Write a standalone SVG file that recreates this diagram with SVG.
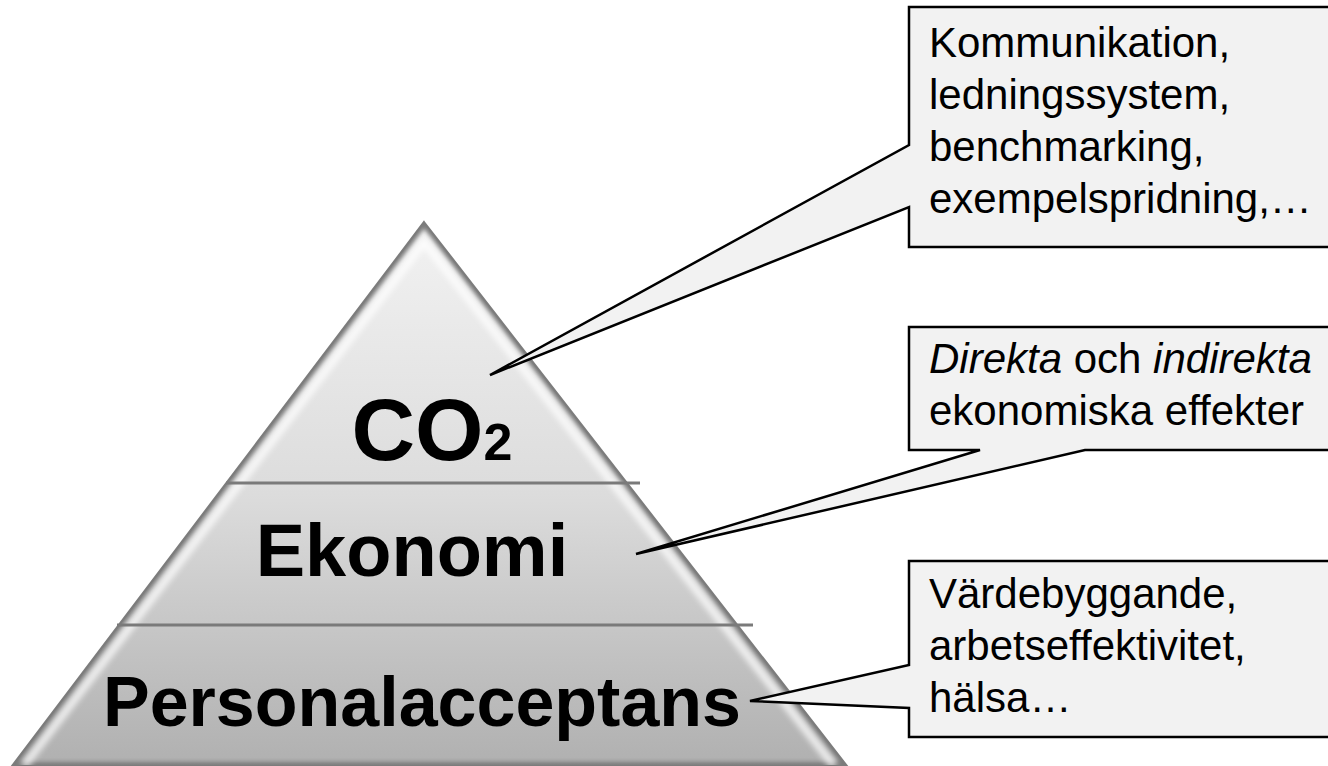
<svg xmlns="http://www.w3.org/2000/svg" width="1328" height="766" viewBox="0 0 1328 766">
<style>
.lvl{font-family:"Liberation Sans",Arial,sans-serif;font-weight:bold;fill:#000;text-anchor:middle}
.co{font-family:"Liberation Sans",Arial,sans-serif;font-size:42px;fill:#000}
.box{fill:#f2f2f2;stroke:#000;stroke-width:2.5;stroke-linejoin:miter}
.div{stroke:#7a7a7a;stroke-width:3;fill:none}
</style>
<defs>
<linearGradient id="pg" x1="0" y1="222" x2="0" y2="766" gradientUnits="userSpaceOnUse">
<stop offset="0" stop-color="#f2f2f2"/>
<stop offset="0.5" stop-color="#dcdcdc"/>
<stop offset="1" stop-color="#b0b0b0"/>
</linearGradient>
<filter id="blur" x="-10%" y="-10%" width="120%" height="120%"><feGaussianBlur stdDeviation="3"/></filter>
<filter id="blur2" x="-10%" y="-10%" width="120%" height="120%"><feGaussianBlur stdDeviation="2"/></filter>
<clipPath id="triClip"><polygon points="424,222 847,766 12,766"/></clipPath>
</defs>
<rect width="1328" height="766" fill="#fff"/>
<g id="pyramid">
<polygon points="424,222 847,766 12,766" fill="url(#pg)"/>
<g clip-path="url(#triClip)">
<polygon points="424,222 847,766 12,766" fill="none" stroke="#7a7a7a" stroke-width="8" filter="url(#blur2)"/>
<polyline points="24,766 424,242 834,766" fill="none" stroke="#fff" stroke-width="7" opacity="0.85" filter="url(#blur)"/>
<line x1="0" y1="764" x2="1000" y2="764" stroke="#777" stroke-width="8" filter="url(#blur)"/>
</g>
<polygon points="424,222 847,766 12,766" fill="none" stroke="#7c7c7c" stroke-width="2"/>
<line class="div" x1="226" y1="483" x2="640" y2="483"/>
<line class="div" x1="117" y1="625" x2="753" y2="625"/>
</g>
<g id="level-co2">
<text class="lvl" x="432" y="460" font-size="88">CO<tspan font-size="52">2</tspan></text>
</g>
<g id="level-ekonomi">
<text class="lvl" x="412" y="576" font-size="74">Ekonomi</text>
</g>
<g id="level-personal">
<text class="lvl" x="422" y="726" font-size="70">Personalacceptans</text>
</g>
<g id="callout-1">
<path class="box" d="M909,7 H1340 V247 H909 V207 L490,375 L909,145 Z"/>
<text class="co" x="929" y="57">Kommunikation,</text>
<text class="co" x="929" y="109">ledningssystem,</text>
<text class="co" x="929" y="161">benchmarking,</text>
<text class="co" x="929" y="213">exempelspridning,…</text>
</g>
<g id="callout-2">
<path class="box" d="M909,327 H1340 V450 H1085 L636,554 L980,450 H909 Z"/>
<text class="co" x="929" y="373"><tspan font-style="italic">Direkta</tspan> och <tspan font-style="italic">indirekta</tspan></text>
<text class="co" x="929" y="425">ekonomiska effekter</text>
</g>
<g id="callout-3">
<path class="box" d="M909,561 H1340 V737 H909 V708 L750,701 L909,665 Z"/>
<text class="co" x="929" y="608">Värdebyggande,</text>
<text class="co" x="929" y="660">arbetseffektivitet,</text>
<text class="co" x="929" y="712">hälsa…</text>
</g>
</svg>
